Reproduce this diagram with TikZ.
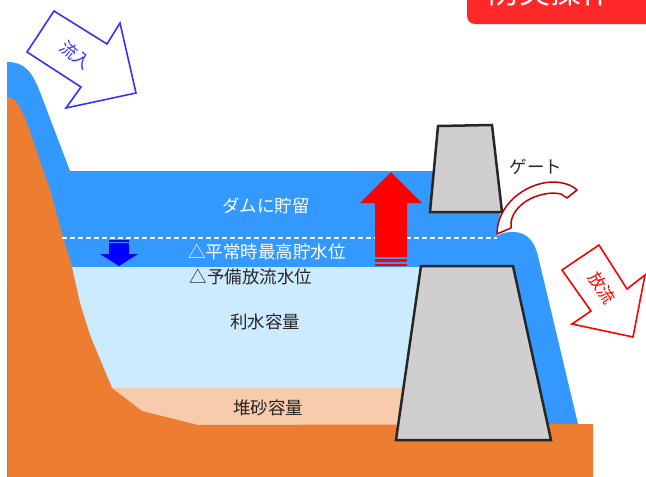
\documentclass[tikz,border=0pt]{standalone}
\usepackage{fontspec}
\setmainfont{Noto Sans CJK JP}
\usetikzlibrary{positioning}

\definecolor{water}{RGB}{51,153,255}
\definecolor{usewater}{RGB}{204,235,255}
\definecolor{sand}{RGB}{248,203,173}
\definecolor{ground}{RGB}{237,125,49}
\definecolor{concrete}{RGB}{208,206,206}
\definecolor{outline}{RGB}{38,38,38}
\definecolor{alert}{RGB}{255,40,40}
\definecolor{inflow}{RGB}{51,51,255}
\definecolor{gatered}{RGB}{192,0,0}

\begin{document}
\begin{tikzpicture}
	[x=1pt,y=-1pt,
		lbl/.style={font=\fontsize{17.5}{20}\selectfont,text=outline},
		wlbl/.style={font=\fontsize{17.5}{20}\selectfont,text=white},
		dam/.style={fill=concrete,draw=outline,line width=2.5pt,line join=miter},
		flowarrow/.style={fill=white,line width=1.6pt,line join=miter}]

	\useasboundingbox (0,0) rectangle (646,477);

	% reservoir water and the spill over the crest
	\fill[water] (7,62) .. controls (25,62) and (32,72) .. (40,92) -- (70,171)
		-- (436,171) -- (430,213) -- (500,213) -- (497,236)
		.. controls (503,232) and (509,232) .. (515,232)
		.. controls (528,233) and (535,243) .. (538,256)
		-- (578,424) -- (578,477) -- (7,477) -- cycle;
	\fill[usewater] (40,267) rectangle (425,396);
	\fill[sand] (90,388) rectangle (410,432);

	% ground
	\fill[ground] (7,97) .. controls (15,97) and (20,105) .. (28,126)
		-- (50,190) -- (63,237) -- (72,267) -- (80,303) -- (90,335)
		-- (112,388) -- (142,411) -- (198,425) -- (593,424)
		-- (593,477) -- (8,477) -- cycle;

	% dam body and gate
	\draw[dam] (421,266) -- (513,266) -- (551,440) -- (396,440) -- cycle;
	\draw[dam] (438,126) -- (492,125) -- (502,212) -- (430,212) -- cycle;

	% levels
	\draw[white,line width=1.5pt,dash pattern=on 5pt off 3pt] (62,238) -- (497,238);

	% rise of the water level
	\fill[red] (375,257) -- (375,203) -- (360,203) -- (391,172) -- (422,203)
		-- (407,203) -- (407,257) -- cycle;
	\fill[red] (375,259) rectangle (407,262);
	\fill[red] (375,264) rectangle (407,266);

	% drawdown
	\fill[blue] (109,245) -- (129,245) -- (129,254) -- (138,254) -- (119,266)
		-- (100,254) -- (109,254) -- cycle;
	\fill[blue] (109,240) rectangle (129,242);
	\fill[blue] (109,243) rectangle (129,244.5);

	% gate opening
	\draw[gatered,fill=white,line width=1.5pt,line join=round]
		(497,234) .. controls (497,205) and (525,183) .. (552,182)
		.. controls (563,182) and (572,185) .. (577,190)
		-- (567,198) -- (561,194)
		.. controls (545,190) and (515,200) .. (511,222)
		-- (511,228) -- cycle;

	% inflow and outflow arrows
	\draw[flowarrow,draw=inflow] (54,11) -- (107,44) -- (120,23) -- (136,93)
		-- (66,108) -- (81,87) -- (27,52) -- cycle;
	\draw[flowarrow,draw=red] (599,245) -- (627,289) -- (645,275) -- (633,337)
		-- (572,324) -- (591,311) -- (562,270) -- cycle;

	% title
	\fill[alert,rounded corners=8pt] (467,-20) rectangle (660,24);
	\node[font=\fontsize{31}{34}\selectfont,text=white] (title) at (550,-8) {防災操作};

	\node[font=\fontsize{17}{18}\selectfont,text=inflow,rotate=-40,inner sep=0pt] (inlbl) at (76,55) {流入};
	\node[font=\fontsize{17}{18}\selectfont,text=red,rotate=-56,inner sep=0pt] (outlbl) at (602,288) {放流};
	\node[lbl] (gatelbl) at (536,167) {ゲート};

	\node[wlbl] (store) at (266,206) {ダムに貯留};
	\node[wlbl] (normal) at (267,252) {△平常時最高貯水位};
	\node[lbl] (reserve) at (251,277) {△予備放流水位};
	\node[lbl] (usable) at (265,322) {利水容量};
	\node[lbl] (sediment) at (268,408) {堆砂容量};

\end{tikzpicture}
\end{document}
